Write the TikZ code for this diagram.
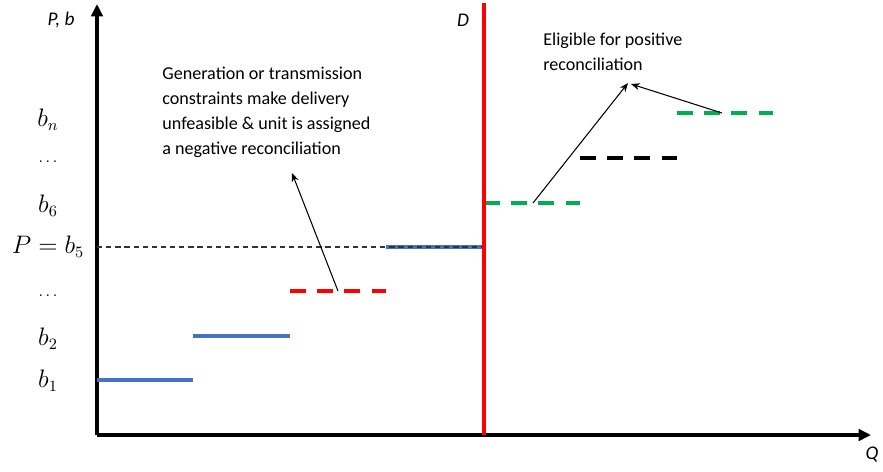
\documentclass[tikz,border=0pt]{standalone}
\usepackage{fontspec}
\setmainfont{Carlito}
\usetikzlibrary{arrows.meta}
\definecolor{bidblue}{HTML}{4472C4}
\definecolor{bidgreen}{HTML}{00B050}
\begin{document}
\begin{tikzpicture}[x=0.02cm, y=-0.02cm]
    \tikzstyle{axis} = [line width=2pt, -{Triangle[length=7pt, width=6.5pt]}]
    \tikzstyle{val} = [font=\fontsize{13.5}{15}\selectfont]
    \tikzstyle{dots} = [font=\fontsize{9}{10}\selectfont]
    \tikzstyle{axlbl} = [font=\fontsize{11}{13}\selectfont\itshape]
    \tikzstyle{bid} = [line width=2pt]
    \tikzstyle{dbid} = [line width=2pt, dash pattern=on 9pt off 6.5pt]
    \tikzstyle{note} = [align=left, anchor=north west, inner sep=0pt, font=\fontsize{10.3}{14.2}\selectfont]
    \tikzstyle{ptr} = [line width=0.6pt, -{Stealth[length=5pt, width=4pt]}]
    \useasboundingbox (0,0) rectangle (883,471);
    % axes
    \coordinate (o) at (97,435);
    \coordinate (ytop) at (97,4);
    \coordinate (xend) at (871,435);
    \draw [axis] (o) -- (ytop);
    \draw [axis] (o) -- (xend);
    \node [axlbl] (pb) at (61,20) {P, b};
    \node [axlbl] (q) at (872,455) {Q};
    \node [axlbl] (d) at (463,20) {D};
    % price levels
    \node [val] (bn) at (48,120) {$b_n$};
    \node [dots] (dt1) at (48,162) {$\ldots$};
    \node [val] (b6) at (48,206) {$b_6$};
    \node [val] (b5) at (48,247) {$P = b_5$};
    \node [dots] (dt2) at (48,296) {$\ldots$};
    \node [val] (b2) at (48,339) {$b_2$};
    \node [val] (b1) at (48,381) {$b_1$};
    % bids
    \draw [bid, bidblue] (97,380) -- (193,380);
    \draw [bid, bidblue] (193,336) -- (290,336);
    \draw [dbid, red] (290,291) -- (386,291);
    \draw [bid, bidblue] (386,247) -- (484,247);
    \draw [black!80, line width=0.7pt, dash pattern=on 3pt off 2.2pt] (97,247) -- (484,247);
    \draw [dbid, bidgreen] (484,203) -- (580,203);
    \draw [dbid, black] (580,158) -- (677,158);
    \draw [dbid, bidgreen] (677,113) -- (773,113);
    % demand
    \draw [line width=2.2pt, red] (484,3) -- (484,435);
    % notes
    \node [note] (neg) at (162,67) {Generation or transmission\\constraints make delivery\\unfeasible \& unit is assigned\\a negative reconciliation};
    \node [note] (pos) at (543,33) {Eligible for positive\\reconciliation};
    \coordinate (negsrc) at (338,291);
    \coordinate (negtip) at (292,173);
    \coordinate (possrc1) at (533,203);
    \coordinate (possrc2) at (722,113);
    \coordinate (postip1) at (628,83);
    \coordinate (postip2) at (631,84);
    \draw [ptr] (negsrc) -- (negtip);
    \draw [ptr] (possrc1) -- (postip1);
    \draw [ptr] (possrc2) -- (postip2);
\end{tikzpicture}
\end{document}
